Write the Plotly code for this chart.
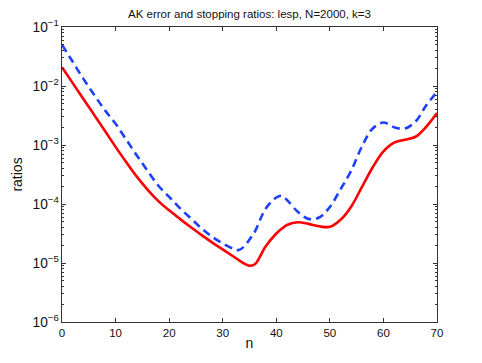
import plotly.graph_objects as go

# iteration index
n = [0, 2, 4, 6, 8, 10, 12, 14, 16, 18, 20, 22, 24, 26, 28, 30, 32, 33, 34, 35, 36,
     38, 40, 41, 42, 44, 46, 48, 50, 52, 54, 56, 58, 60, 62, 64, 66, 68, 70]

# AK error ratio (solid red)
err_ratio = [2.09e-2, 1.12e-2, 6.03e-3, 3.24e-3, 1.74e-3, 9.3e-4, 5.1e-4, 2.88e-4,
             1.74e-4, 1.12e-4, 7.8e-5, 5.6e-5, 4.07e-5, 3.0e-5, 2.24e-5, 1.70e-5,
             1.29e-5, 1.12e-5, 9.8e-6, 9.0e-6, 9.5e-6, 1.9e-5, 3.16e-5, 3.8e-5,
             4.4e-5, 4.9e-5, 4.6e-5, 4.2e-5, 4.1e-5, 5.4e-5, 9.1e-5, 1.95e-4,
             4.2e-4, 7.8e-4, 1.1e-3, 1.23e-3, 1.38e-3, 2.04e-3, 3.47e-3]

# stopping ratio (dashed blue)
stop_ratio = [5.0e-2, 2.57e-2, 1.32e-2, 7.1e-3, 3.9e-3, 2.29e-3, 1.23e-3, 6.6e-4,
              3.63e-4, 2.04e-4, 1.32e-4, 8.5e-5, 5.75e-5, 3.9e-5, 2.8e-5, 2.14e-5,
              1.74e-5, 1.66e-5, 1.9e-5, 2.5e-5, 3.4e-5, 8.3e-5, 1.29e-4, 1.38e-4,
              1.17e-4, 7.4e-5, 5.6e-5, 5.9e-5, 8.9e-5, 1.78e-4, 3.7e-4, 9.5e-4,
              1.9e-3, 2.4e-3, 2.0e-3, 1.9e-3, 2.5e-3, 4.7e-3, 7.9e-3]

x_ticks = [0, 10, 20, 30, 40, 50, 60, 70]

fig = go.Figure()
fig.add_trace(go.Scatter(x=n, y=err_ratio, mode="lines", line_shape="spline",
                         line=dict(color="#ff0000", width=2.6)))
fig.add_trace(go.Scatter(x=n, y=stop_ratio, mode="lines", line_shape="spline",
                         line=dict(color="#2040ff", width=2.6, dash="8px,5px")))

axis_common = dict(showgrid=False, zeroline=False, showline=True, linecolor="#333",
                   linewidth=1, mirror="ticks", ticks="inside", ticklen=4,
                   tickcolor="#333", automargin=False)

# the page puts the plot 8px in from the top-left corner, so margins allow for it
fig.update_layout(
    width=482, height=363,
    margin=dict(l=54, r=53, t=19, b=49),
    paper_bgcolor="white", plot_bgcolor="white",
    showlegend=False,
    font=dict(family="Liberation Sans, Arial, sans-serif", size=11.5, color="#111"),
    title=dict(text="AK error and stopping ratios: lesp, N=2000, k=3",
               x=0.5, xref="paper", xanchor="center",
               y=1 - 6 / 363, yref="container", yanchor="middle",
               font=dict(size=11.5)),
    xaxis=dict(range=[0, 70], tickvals=x_ticks, tickfont=dict(size=11.5),
               title=dict(text="n", standoff=0), **axis_common),
    yaxis=dict(type="log", range=[-6, -1], dtick=1, exponentformat="power",
               showexponent="all", tickfont=dict(size=11),
               title=dict(text="ratios", standoff=6),
               minor=dict(ticks="inside", ticklen=2, tickcolor="#333",
                          dtick="D1", showgrid=False),
               **axis_common),
)

fig.write_html("out.html")
